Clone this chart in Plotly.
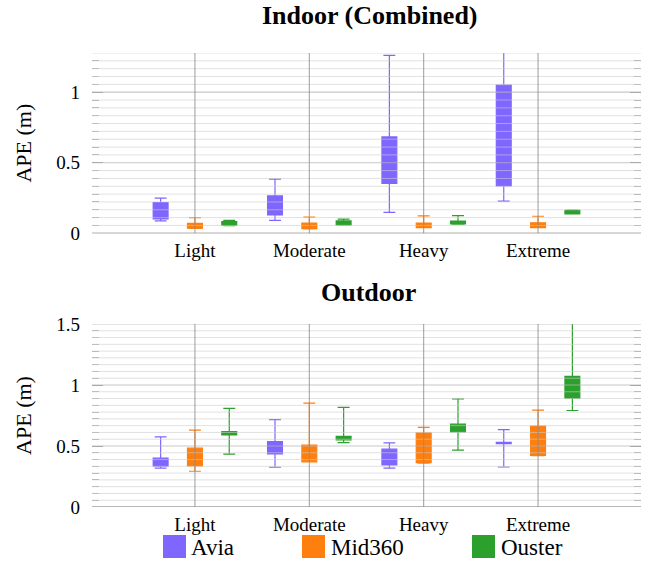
import plotly.graph_objects as go

# ---------------- data ----------------
conditions = ["Light", "Moderate", "Heavy", "Extreme"]
sensors = ["Avia", "Mid360", "Ouster"]
colors = {"Avia": "#7f66ff", "Mid360": "#ff7f0e", "Ouster": "#2ca02c"}

# Indoor (Combined)
avia_in_lower = [0.088, 0.092, 0.149, 0.228]
avia_in_q1 = [0.102, 0.130, 0.353, 0.336]
avia_in_med = [0.160, 0.185, 0.500, 0.620]
avia_in_q3 = [0.218, 0.265, 0.683, 1.050]
avia_in_upper = [0.249, 0.384, 1.261, 1.600]

mid_in_lower = [0.034, 0.031, 0.040, 0.040]
mid_in_q1 = [0.036, 0.033, 0.040, 0.040]
mid_in_med = [0.055, 0.050, 0.055, 0.055]
mid_in_q3 = [0.071, 0.073, 0.073, 0.074]
mid_in_upper = [0.111, 0.114, 0.123, 0.121]

ouster_in_lower = [0.055, 0.058, 0.064, 0.137]
ouster_in_q1 = [0.057, 0.060, 0.066, 0.137]
ouster_in_med = [0.070, 0.075, 0.075, 0.150]
ouster_in_q3 = [0.083, 0.088, 0.087, 0.163]
ouster_in_upper = [0.092, 0.100, 0.125, 0.165]

# Outdoor
avia_out_lower = [0.318, 0.326, 0.318, 0.328]
avia_out_q1 = [0.334, 0.435, 0.345, 0.520]
avia_out_med = [0.360, 0.490, 0.410, 0.525]
avia_out_q3 = [0.400, 0.537, 0.474, 0.530]
avia_out_upper = [0.575, 0.717, 0.526, 0.635]

mid_out_lower = [0.293, 0.370, 0.360, 0.420]
mid_out_q1 = [0.337, 0.370, 0.364, 0.422]
mid_out_med = [0.410, 0.440, 0.500, 0.520]
mid_out_q3 = [0.482, 0.507, 0.607, 0.663]
mid_out_upper = [0.630, 0.851, 0.652, 0.794]

ouster_out_lower = [0.433, 0.528, 0.466, 0.791]
ouster_out_q1 = [0.591, 0.550, 0.616, 0.892]
ouster_out_med = [0.605, 0.570, 0.640, 0.980]
ouster_out_q3 = [0.619, 0.580, 0.679, 1.070]
ouster_out_upper = [0.808, 0.816, 0.887, 1.900]

y_ticks_in = [0, 0.5, 1]
y_ticks_out = [0, 0.5, 1, 1.5]

# ---------------- layout helpers ----------------
W, H = 662, 563
ML, MR, MT, MB = 92, 21, 53, 56
PW, PH = W - ML - MR, H - MT - MB
FONT = "Liberation Serif, Times New Roman, serif"


def px_x(p):
    return (p - ML) / PW


def px_y(p):
    return (H - MB - p) / PH


top_dom = [px_y(233.3), 1.0]
bot_dom = [0.0, px_y(324)]

offsets = {"Avia": -0.3, "Mid360": 0.0, "Ouster": 0.3}

series = {
    ("in", "Avia"): (avia_in_lower, avia_in_q1, avia_in_med, avia_in_q3, avia_in_upper),
    ("in", "Mid360"): (mid_in_lower, mid_in_q1, mid_in_med, mid_in_q3, mid_in_upper),
    ("in", "Ouster"): (ouster_in_lower, ouster_in_q1, ouster_in_med, ouster_in_q3, ouster_in_upper),
    ("out", "Avia"): (avia_out_lower, avia_out_q1, avia_out_med, avia_out_q3, avia_out_upper),
    ("out", "Mid360"): (mid_out_lower, mid_out_q1, mid_out_med, mid_out_q3, mid_out_upper),
    ("out", "Ouster"): (ouster_out_lower, ouster_out_q1, ouster_out_med, ouster_out_q3, ouster_out_upper),
}

fig = go.Figure()
for panel, (xa, ya) in {"in": ("x", "y"), "out": ("x2", "y2")}.items():
    for s in sensors:
        lo, q1, med, q3, up = series[(panel, s)]
        fig.add_trace(go.Box(
            x=[i + offsets[s] for i in range(len(conditions))],
            lowerfence=lo, q1=q1, median=med, q3=q3, upperfence=up,
            name=s, legendgroup=s, showlegend=False,
            width=0.13, whiskerwidth=0.8,
            fillcolor=colors[s],
            line=dict(color=colors[s], width=1.2),
            boxpoints=False, hoverinfo="y",
            xaxis=xa, yaxis=ya,
        ))

shapes = []
step = 0.5 / 9
for yref, ymax in (("y", 1.2778), ("y2", 1.5)):
    n = int(round(ymax / step))
    for k in range(n + 1):
        major = (k % 9 == 0)
        shapes.append(dict(
            type="line", xref=yref.replace("y", "x") + " domain", yref=yref,
            x0=0, x1=1, y0=k * step, y1=k * step, layer="above",
            line=dict(color="rgba(180,180,180,0.75)" if major else "rgba(205,205,205,0.6)",
                      width=1.2 if major else 1.0),
        ))
    for i in range(len(conditions)):
        shapes.append(dict(
            type="line", xref=yref.replace("y", "x"), yref=yref + " domain",
            x0=i, x1=i, y0=0, y1=1, layer="above",
            line=dict(color="rgba(140,140,140,0.85)", width=1.0),
        ))
    shapes.append(dict(
        type="line", xref=yref.replace("y", "x") + " domain", yref=yref,
        x0=0, x1=1, y0=0, y1=0, layer="above",
        line=dict(color="rgba(140,140,140,1)", width=1.2),
    ))

# legend built from sensors
legend_px = {"Avia": (163, 189), "Mid360": (302, 329), "Ouster": (472, 499)}
annotations = []
for s in sensors:
    sx, tx = legend_px[s]
    shapes.append(dict(type="rect", xref="paper", yref="paper",
                       x0=px_x(sx), x1=px_x(sx + 23), y0=px_y(558), y1=px_y(535),
                       fillcolor=colors[s], line=dict(width=0)))
    annotations.append(dict(text=s, xref="paper", yref="paper", x=px_x(tx), y=px_y(547),
                            xanchor="left", yanchor="middle", showarrow=False,
                            font=dict(family=FONT, size=23, color="black")))

annotations.append(dict(text="<b>Indoor (Combined)</b>", xref="paper", yref="paper",
                        x=px_x(370), y=px_y(16), xanchor="center", yanchor="middle",
                        showarrow=False, font=dict(family=FONT, size=26, color="black")))
annotations.append(dict(text="<b>Outdoor</b>", xref="paper", yref="paper",
                        x=px_x(368), y=px_y(292), xanchor="center", yanchor="middle",
                        showarrow=False, font=dict(family=FONT, size=26, color="black")))

xaxis_common = dict(
    range=[-0.9, 3.9], tickvals=list(range(len(conditions))), ticktext=conditions,
    showgrid=False, zeroline=False, showline=False, ticks="",
    tickfont=dict(family=FONT, size=19, color="black"), ticklabelstandoff=4,
)
yaxis_common = dict(
    showgrid=False, zeroline=False, showline=False,
    ticks="inside", ticklen=11, tickwidth=1.2, tickcolor="#a0a0a0", mirror="ticks",
    minor=dict(dtick=step, ticks="inside", ticklen=7, tickwidth=1, tickcolor="#b0b0b0", showgrid=False),
    tickfont=dict(family=FONT, size=19, color="black"), ticklabelstandoff=11,
    title=dict(text="APE (m)", font=dict(family=FONT, size=22, color="black"), standoff=18),
)

fig.update_layout(
    width=W, height=H,
    margin=dict(l=ML, r=MR, t=MT, b=MB),
    paper_bgcolor="white", plot_bgcolor="white",
    boxmode="overlay", showlegend=False,
    xaxis=dict(xaxis_common, anchor="y", domain=[0, 1]),
    xaxis2=dict(xaxis_common, anchor="y2", domain=[0, 1]),
    yaxis=dict(yaxis_common, anchor="x", domain=top_dom, range=[0, 1.2778],
               tickvals=y_ticks_in, ticktext=["0", "0.5", "1"]),
    yaxis2=dict(yaxis_common, anchor="x2", domain=bot_dom, range=[0, 1.5],
                tickvals=y_ticks_out, ticktext=["0", "0.5", "1", "1.5"]),
    shapes=shapes, annotations=annotations,
    font=dict(family=FONT),
)

fig.write_html("out.html", config={"displayModeBar": False},
               post_script="document.body.style.margin='0px';document.body.style.overflow='hidden';")
